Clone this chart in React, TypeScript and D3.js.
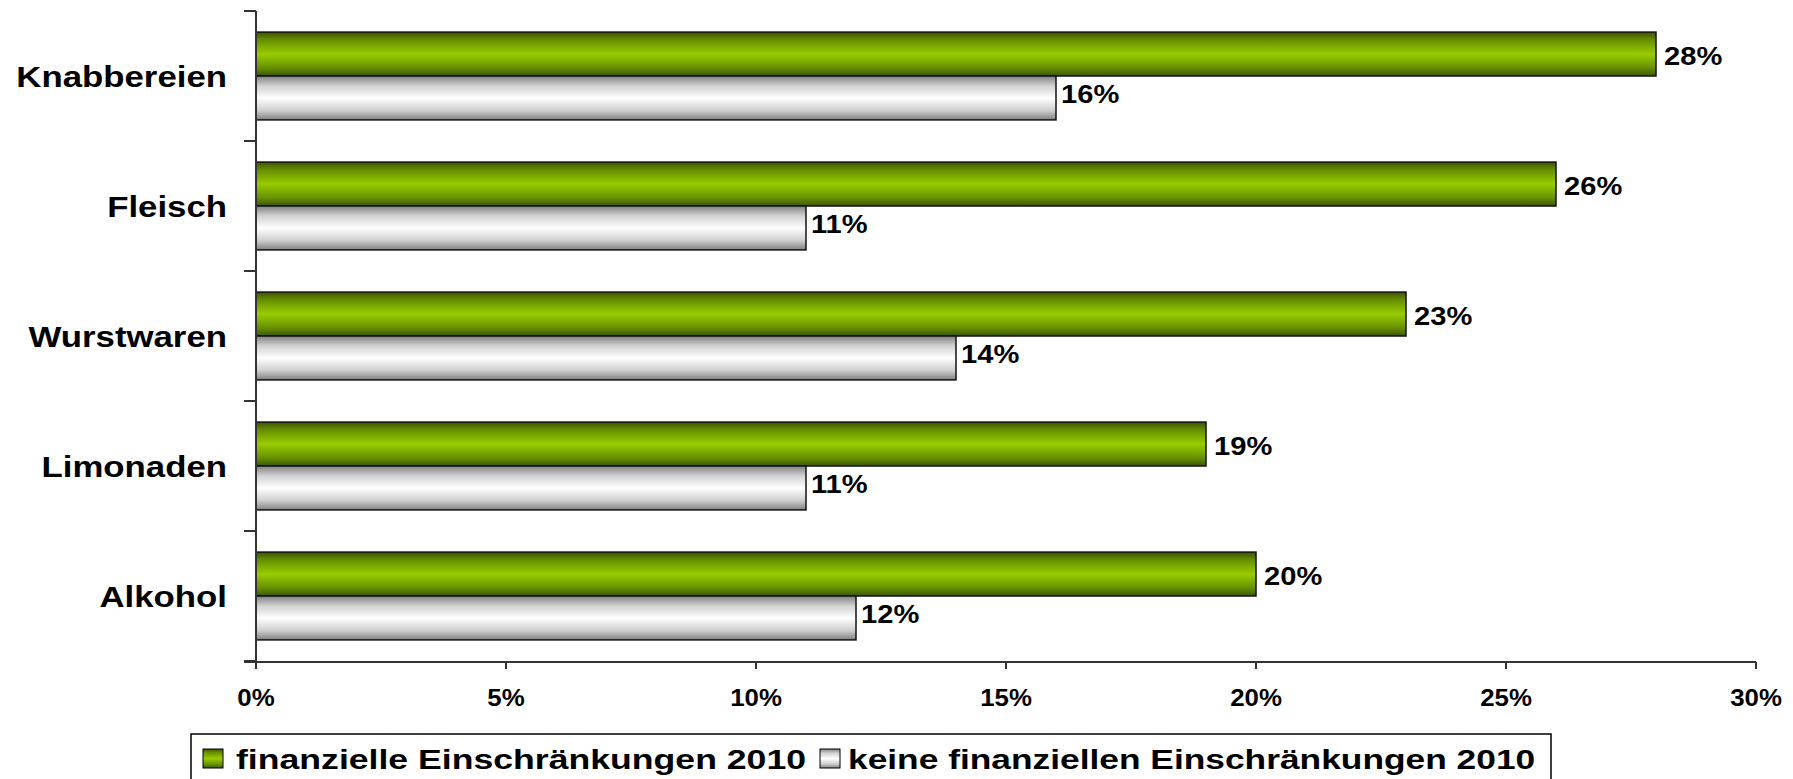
import React from 'react';
import { scaleLinear, scaleBand } from 'd3';

// categories top to bottom
const categories = ['Knabbereien', 'Fleisch', 'Wurstwaren', 'Limonaden', 'Alkohol'];
const seriesNames = ['finanzielle Einschränkungen 2010', 'keine finanziellen Einschränkungen 2010'];
const financialValues = [28, 26, 23, 19, 20];
const noFinancialValues = [16, 11, 14, 11, 12];
const xTicks = [0, 5, 10, 15, 20, 25, 30];

const W = 1793;
const H = 779;
const FONT = '"Liberation Sans", Arial, sans-serif';

const App = () => {
  const x = scaleLinear().domain([0, 30]).range([256, 1756]);
  const y = scaleBand<string>().domain(categories).range([11, 661]).padding(0);
  const inner = scaleBand<string>()
    .domain(['a', 'b'])
    .range([0, y.step()])
    .paddingInner(0)
    .paddingOuter(0.48);

  // label offsets differ a little per series in the original
  const series = [
    { key: 'a', values: financialValues, fill: 'url(#gGreen)', dx: 8, dy: 10.8 },
    { key: 'b', values: noFinancialValues, fill: 'url(#gWhite)', dx: 5, dy: 5 },
  ];

  const axisColor = '#333';

  return (
    <svg width={W} height={H} style={{ position: 'absolute', left: 0, top: 0, background: '#fff' }}>
      <defs>
        <linearGradient id="gGreen" x1="0" y1="0" x2="0" y2="1">
          <stop offset="0%" stopColor="#3d5500" />
          <stop offset="18%" stopColor="#668f00" />
          <stop offset="50%" stopColor="#99cc00" />
          <stop offset="82%" stopColor="#668f00" />
          <stop offset="100%" stopColor="#3d5500" />
        </linearGradient>
        <linearGradient id="gWhite" x1="0" y1="0" x2="0" y2="1">
          <stop offset="0%" stopColor="#808080" />
          <stop offset="22%" stopColor="#d0d0d0" />
          <stop offset="50%" stopColor="#ffffff" />
          <stop offset="78%" stopColor="#d0d0d0" />
          <stop offset="100%" stopColor="#808080" />
        </linearGradient>
      </defs>

      {/* bars */}
      {categories.map((c, i) => (
        <g key={c} transform={`translate(0,${y(c)})`}>
          {series.map(s => {
            const v = s.values[i];
            const by = inner(s.key) as number;
            const bh = inner.bandwidth();
            return (
              <g key={s.key}>
                <rect
                  x={x(0)}
                  y={by}
                  width={x(v) - x(0)}
                  height={bh}
                  fill={s.fill}
                  stroke="#111"
                  strokeWidth={1.5}
                />
                <text
                  transform={`translate(${x(v) + s.dx},${by + bh / 2 + s.dy}) scale(1.12,1)`}
                  fontFamily={FONT}
                  fontWeight="bold"
                  fontSize={26}
                  fill="#000"
                >
                  {v}%
                </text>
              </g>
            );
          })}
          <text
            transform={`translate(227,${y.bandwidth() / 2 + 11}) scale(1.16,1)`}
            textAnchor="end"
            fontFamily={FONT}
            fontWeight="bold"
            fontSize={30}
            fill="#000"
          >
            {c}
          </text>
        </g>
      ))}

      {/* y axis */}
      <line x1={x(0)} x2={x(0)} y1={11} y2={669} stroke={axisColor} strokeWidth={2} />
      {[...categories.map(c => y(c) as number), 661].map((t, i) => (
        <line key={i} x1={x(0) - 12} x2={x(0)} y1={t} y2={t} stroke={axisColor} strokeWidth={2} />
      ))}

      {/* x axis */}
      <line x1={x(0) - 12} x2={x(30)} y1={662} y2={662} stroke={axisColor} strokeWidth={2} />
      {xTicks.map(t => (
        <g key={t}>
          <line x1={x(t)} x2={x(t)} y1={662} y2={669} stroke={axisColor} strokeWidth={2} />
          <text
            transform={`translate(${x(t)},706) scale(1.1,1)`}
            textAnchor="middle"
            fontFamily={FONT}
            fontWeight="bold"
            fontSize={23.5}
            fill="#000"
          >
            {t}%
          </text>
        </g>
      ))}

      {/* legend */}
      <rect x={191} y={734} width={1360} height={70} fill="#fff" stroke="#000" strokeWidth={1.5} />
      <rect x={203} y={749} width={20} height={19} fill="url(#gGreen)" stroke="#000" strokeWidth={1} />
      <text
        transform="translate(236,769) scale(1.25,1)"
        fontFamily={FONT}
        fontWeight="bold"
        fontSize={28.5}
        fill="#000"
      >
        {seriesNames[0]}
      </text>
      <rect x={820} y={749} width={20} height={19} fill="url(#gWhite)" stroke="#000" strokeWidth={1} />
      <text
        transform="translate(848,769) scale(1.24,1)"
        fontFamily={FONT}
        fontWeight="bold"
        fontSize={28.5}
        fill="#000"
      >
        {seriesNames[1]}
      </text>
    </svg>
  );
};

export default App;
